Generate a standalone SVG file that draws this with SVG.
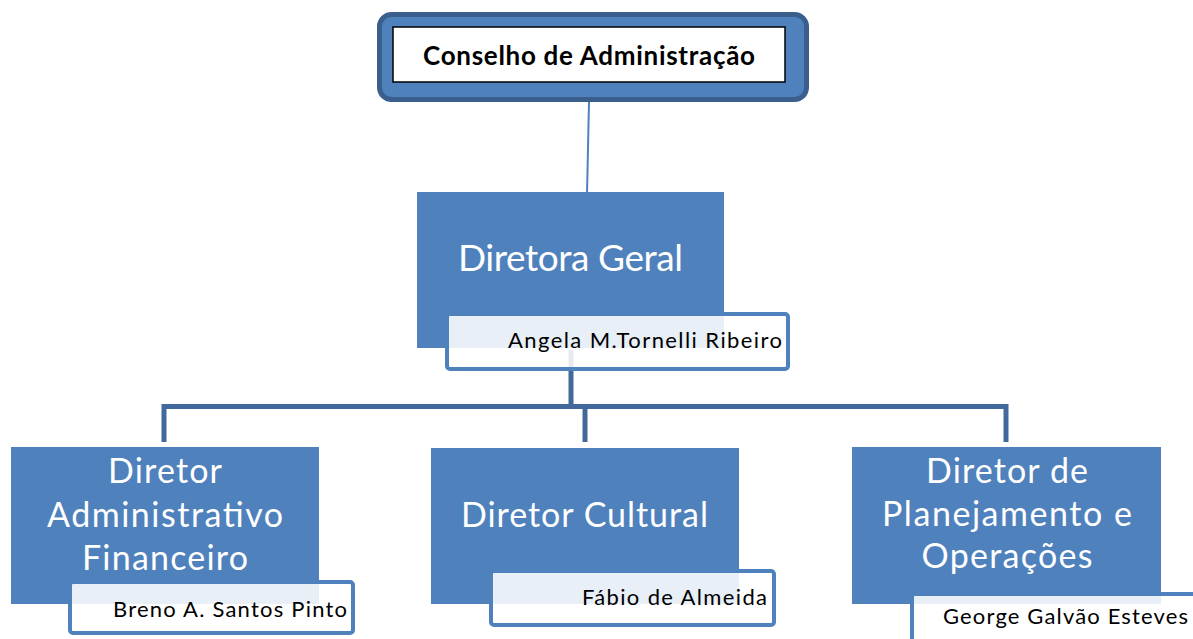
<svg xmlns="http://www.w3.org/2000/svg" width="1193" height="639" viewBox="0 0 1193 639">
<style>
.box{fill:#4f81bd}
.name{fill:#ffffff;fill-opacity:0.87;stroke:#4f81bd;stroke-width:4}
.title{font-family:Lato,"Open Sans","Liberation Sans",sans-serif;fill:#ffffff;text-anchor:middle}
.t1{font-size:37px}
.t2{font-size:34px}
.nm{font-family:Lato,"Open Sans","Liberation Sans",sans-serif;font-size:22px;fill:#000000}
.conn{fill:none;stroke:#41699b;stroke-width:5;stroke-linejoin:miter}
</style>
<rect width="1193" height="639" fill="#ffffff"/>
<g id="connectors">
<line x1="589" y1="102" x2="587" y2="194" stroke="#4f81bd" stroke-width="2"/>
<path class="conn" d="M571,350 V406.5"/>
<path class="conn" d="M164,442 V406.5 H1006 V442"/>
<path class="conn" d="M585,406.5 V442"/>
</g>
<g id="conselho">
<rect x="379.5" y="14.5" width="427" height="85" rx="12" fill="#4f81bd" stroke="#3b5f8c" stroke-width="5"/>
<rect x="393" y="27" width="392" height="55" fill="#ffffff" stroke="#000000" stroke-width="1.5"/>
<text x="589" y="65" font-family="Lato,'Open Sans','Liberation Sans',sans-serif" font-weight="bold" font-size="26" text-anchor="middle" textLength="332">Conselho de Administração</text>
</g>
<g id="diretora-geral">
<rect class="box" x="417" y="192" width="307" height="156"/>
<text class="title t1" x="570.5" y="271" textLength="225">Diretora Geral</text>
<rect class="name" x="447" y="314" width="341" height="55" rx="3"/>
<text class="nm" x="508" y="348" textLength="274">Angela M.Tornelli Ribeiro</text>
</g>
<g id="diretor-administrativo">
<rect class="box" x="11" y="447" width="308" height="157"/>
<text class="title t2" x="165" y="483" textLength="114">Diretor</text>
<text class="title t2" x="165" y="527" textLength="236">Administrativo</text>
<text class="title t2" x="165" y="570" textLength="166">Financeiro</text>
<rect class="name" x="70" y="582" width="283" height="51" rx="3"/>
<text class="nm" x="113" y="617" textLength="234">Breno A. Santos Pinto</text>
</g>
<g id="diretor-cultural">
<rect class="box" x="431" y="448" width="308" height="156"/>
<text class="title t2" x="584.5" y="527" textLength="247">Diretor Cultural</text>
<rect class="name" x="491" y="571" width="283" height="54" rx="3"/>
<text class="nm" x="582" y="605" textLength="185">Fábio de Almeida</text>
</g>
<g id="diretor-planejamento">
<rect class="box" x="852" y="447" width="309" height="157"/>
<text class="title t2" x="1007" y="483" textLength="162">Diretor de</text>
<text class="title t2" x="1007" y="526" textLength="250">Planejamento e</text>
<text class="title t2" x="1007" y="568" textLength="171">Operações</text>
<rect class="name" x="912" y="594" width="300" height="55" rx="3"/>
<text class="nm" x="943" y="624" textLength="245">George Galvão Esteves</text>
</g>
</svg>
